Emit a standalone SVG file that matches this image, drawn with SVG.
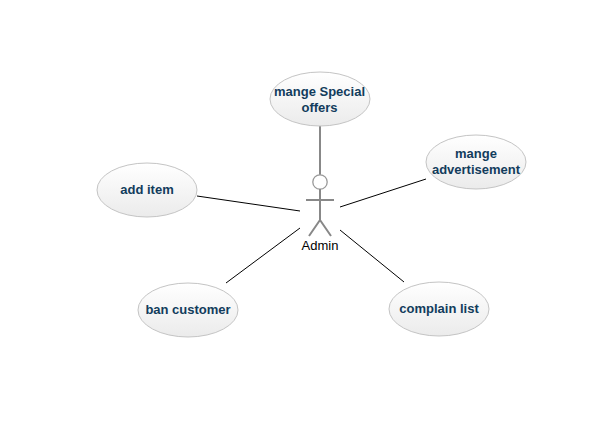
<svg xmlns="http://www.w3.org/2000/svg" width="600" height="424" viewBox="0 0 600 424">
<style>
text{font-family:"Liberation Sans",Arial,sans-serif}
.uc ellipse{fill:url(#g);stroke:#c4c4c4;stroke-width:1}
.uc text{font-size:13px;font-weight:bold;fill:#123c5c;text-anchor:middle}
.gl{stroke:#888;stroke-width:2;fill:none}
.bl{stroke:#000;stroke-width:1;fill:none}
</style>
<defs><linearGradient id="g" x1="0" y1="0" x2="0" y2="1"><stop offset="0" stop-color="#ffffff"/><stop offset="1" stop-color="#ebebeb"/></linearGradient></defs>
<rect width="600" height="424" fill="#fff"/>
<g id="connectors">
<line class="gl" x1="320" y1="126" x2="320" y2="175"/>
<line class="bl" x1="197" y1="196" x2="300" y2="211"/>
<line class="bl" x1="426" y1="179" x2="340" y2="207"/>
<line class="bl" x1="226" y1="283" x2="300" y2="228"/>
<line class="bl" x1="404" y1="282" x2="340" y2="230"/>
</g>
<g id="actor-admin">
<circle cx="320" cy="182" r="7.2" fill="#fff" stroke="#999" stroke-width="1.3"/>
<path class="gl" d="M320 189V220M306 200H334M320 220L309 236M320 220L331 236"/>
<text x="320" y="250" font-size="13" text-anchor="middle" fill="#000">Admin</text>
</g>
<g id="uc-special" class="uc"><ellipse cx="320" cy="99" rx="50" ry="27"/><text x="319.5" y="96">mange Special</text><text x="319.5" y="112">offers</text></g>
<g id="uc-advert" class="uc"><ellipse cx="476" cy="162" rx="50" ry="27"/><text x="476" y="158">mange</text><text x="476" y="174">advertisement</text></g>
<g id="uc-add" class="uc"><ellipse cx="147" cy="190" rx="50" ry="27"/><text x="147" y="194">add item</text></g>
<g id="uc-ban" class="uc"><ellipse cx="188" cy="310" rx="50" ry="27"/><text x="188" y="314">ban customer</text></g>
<g id="uc-complain" class="uc"><ellipse cx="439" cy="309" rx="50" ry="27"/><text x="439" y="313">complain list</text></g>
</svg>
